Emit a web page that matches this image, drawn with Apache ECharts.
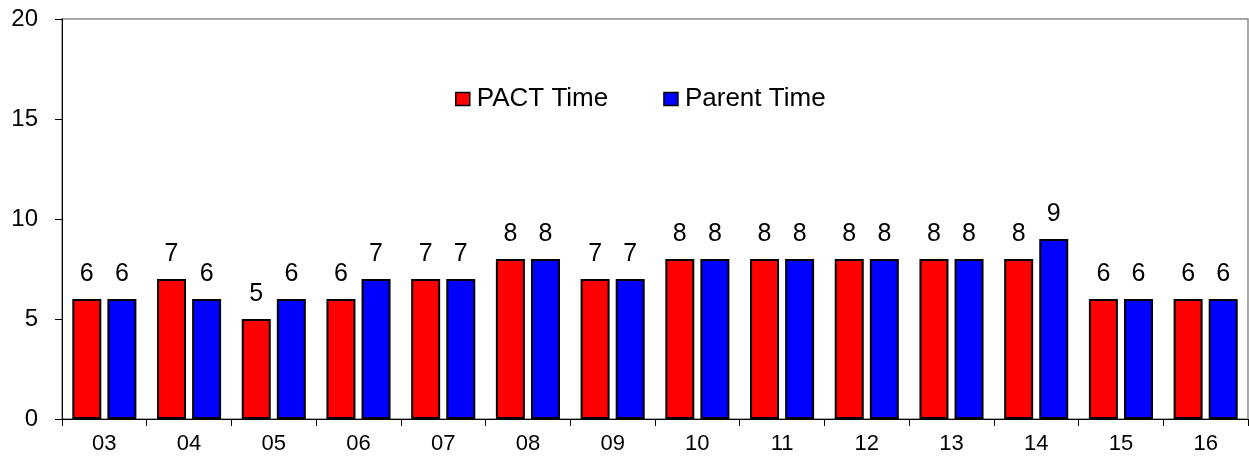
<!DOCTYPE html>
<html><head><meta charset="utf-8">
<script src="https://cdn.jsdelivr.net/npm/echarts@6/dist/echarts.min.js"></script>
<style>html,body{margin:0;padding:0;background:#fff}#c{width:1249px;height:460px}</style>
</head><body><div id="c"></div>
<script>
const categories = ['03','04','05','06','07','08','09','10','11','12','13','14','15','16'];
const pactTime = [6,7,5,6,7,8,7,8,8,8,8,8,6,6];
const parentTime = [6,6,6,7,7,8,7,8,8,8,8,9,6,6];
const yTicks = [0,5,10,15,20];

const chart = echarts.init(document.getElementById('c'));
const font = 'Liberation Sans, Arial, sans-serif';
const lbl = {show:true, position:'top', distance:12, color:'#000', fontSize:25, fontFamily:font};
chart.setOption({
  animation:false,
  textStyle:{fontFamily:font},
  grid:{left:62, right:1, top:19, bottom:41, show:true, borderColor:'#8c8c8c', borderWidth:1.5, backgroundColor:'transparent'},
  legend:{
    top:81, left:450, itemWidth:14, itemHeight:13, itemGap:55,
    icon:'rect',
    itemStyle:{borderColor:'#000', borderWidth:1.5},
    textStyle:{fontSize:26, color:'#000', fontFamily:font, padding:[0,0,0,2]},
    data:['PACT Time','Parent Time']
  },
  xAxis:{
    type:'category', data:categories,
    axisLine:{lineStyle:{color:'#000', width:1}},
    axisTick:{show:true, length:7, lineStyle:{color:'#000'}},
    axisLabel:{color:'#000', fontSize:22, margin:14, fontFamily:font}
  },
  yAxis:{
    type:'value', min:yTicks[0], max:yTicks[yTicks.length-1], interval:5,
    axisLine:{show:true, lineStyle:{color:'#000', width:1}},
    axisTick:{show:true, length:7, lineStyle:{color:'#000'}},
    axisLabel:{color:'#000', fontSize:24, margin:24, fontFamily:font},
    splitLine:{show:false}
  },
  series:[
    {name:'PACT Time', type:'bar', data:pactTime, barWidth:29, barGap:'21%',
     itemStyle:{color:'#ff0000', borderColor:'#000', borderWidth:2}, label:lbl},
    {name:'Parent Time', type:'bar', data:parentTime, barWidth:29,
     itemStyle:{color:'#0000ff', borderColor:'#000', borderWidth:2}, label:lbl}
  ]
});
</script></body></html>
